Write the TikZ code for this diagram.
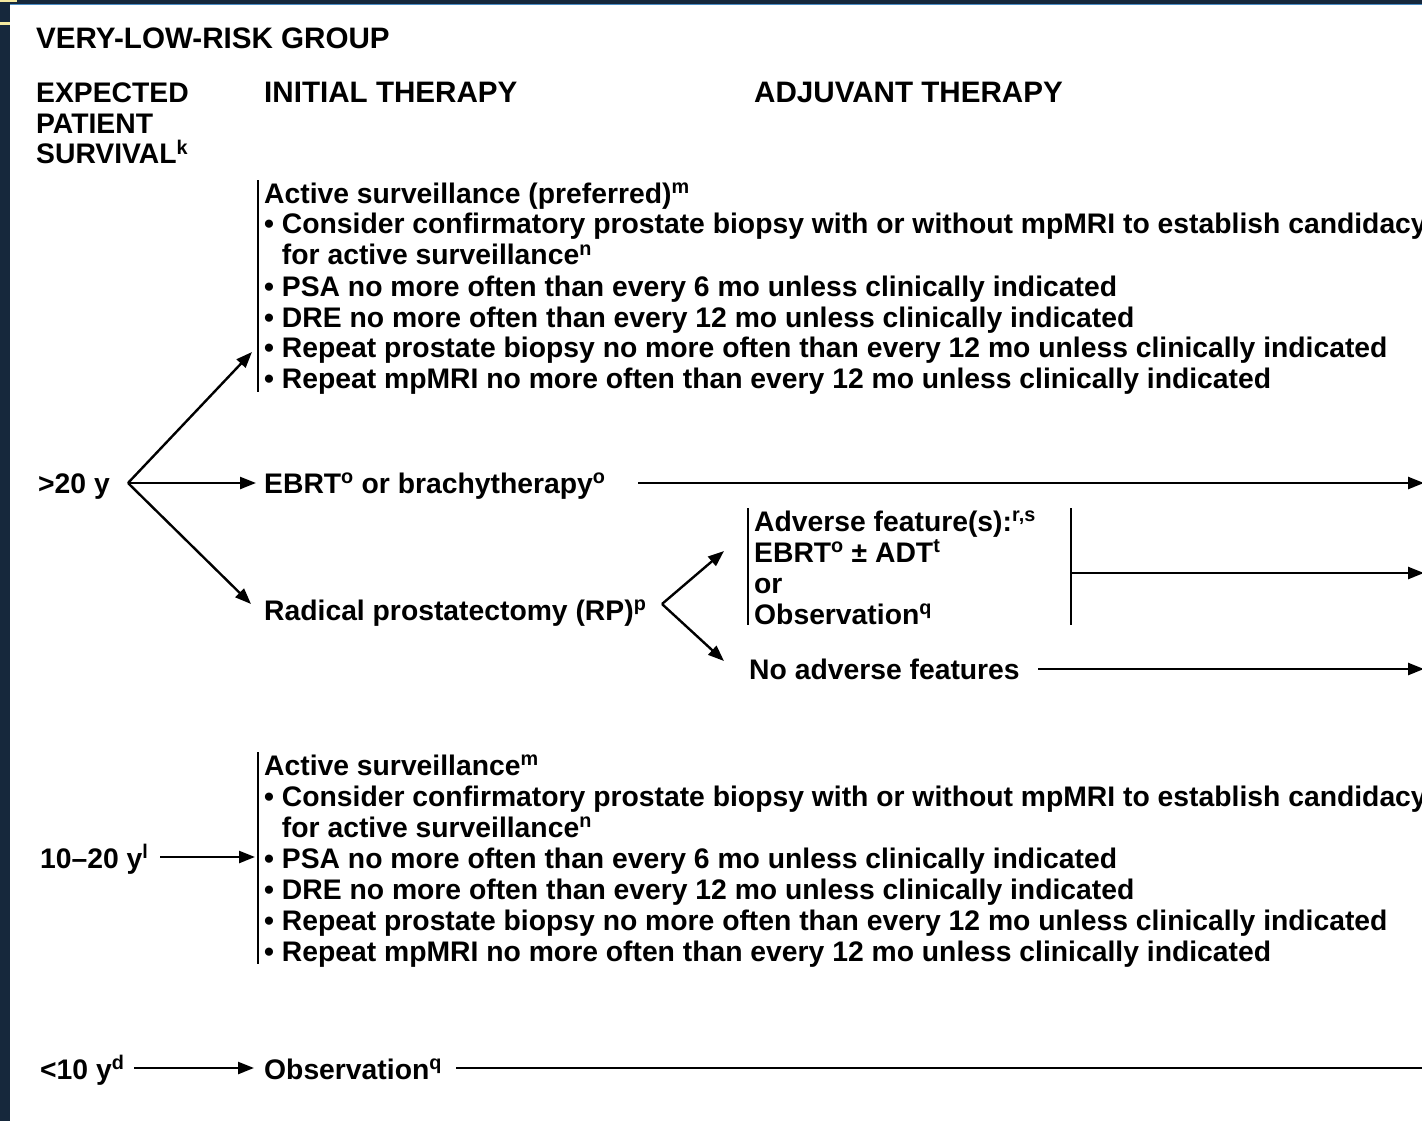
\documentclass[tikz,border=0pt]{standalone}
\usepackage{fontspec}
\setmainfont{Liberation Sans}
\usetikzlibrary{arrows.meta}
\definecolor{navy}{HTML}{16283C}
\definecolor{edgeblue}{HTML}{4A8CC4}
\definecolor{cornyellow}{HTML}{F4E9A0}
\begin{document}
\begin{tikzpicture}[x=1pt,y=-1pt,
  every node/.style={font=\fontsize{28.3}{31}\selectfont\bfseries, inner sep=0pt},
  txt/.style={anchor=base west},
  head/.style={anchor=base west, font=\fontsize{29.6}{30.5}\selectfont\bfseries},
  conn/.style={line width=2.4pt, -{Triangle[length=16pt,width=12pt]}},
  plainline/.style={line width=2.4pt},
  bar/.style={line width=2.4pt}]
\useasboundingbox (0,0) rectangle (1422,1121);
\clip (0,0) rectangle (1422,1121);
% slide background
\fill[navy] (0,0) rectangle (1422,1121);
\fill[white] (10,5) rectangle (1422,1121);
\draw[edgeblue, line width=1.5pt] (10,4.5) -- (1422,4.5);
\draw[cornyellow, line width=2pt] (0,1) -- (17,1);
\draw[cornyellow, line width=3pt] (0,23.5) -- (10,23.5);

% headers
\node[head] (title) at (36,49) {VERY-LOW-RISK GROUP};
\node[txt, font=\fontsize{28.3}{30.5}\selectfont\bfseries] (survhead) at (36,103) {\parbox[t]{300pt}{EXPECTED\\PATIENT\\SURVIVAL\textsuperscript{k}}};
\node[head] (inithead) at (264,103) {INITIAL THERAPY};
\node[head] (adjhead) at (754,103) {ADJUVANT THERAPY};

% >20 y branch
\node[txt] (gt20) at (38,493) {>20 y};
\coordinate (v1) at (128,483);
\node[txt] (as1) at (264,203) {\parbox[t]{1300pt}{Active surveillance (preferred)\textsuperscript{m}\\
• Consider confirmatory prostate biopsy with or without mpMRI to establish candidacy\\
\phantom{•}\ for active surveillance\textsuperscript{n}\\
• PSA no more often than every 6 mo unless clinically indicated\\
• DRE no more often than every 12 mo unless clinically indicated\\
• Repeat prostate biopsy no more often than every 12 mo unless clinically indicated\\
• Repeat mpMRI no more often than every 12 mo unless clinically indicated}};
\draw[bar] ([xshift=-6pt,yshift=2pt]as1.north west) -- ([xshift=-6pt,yshift=3pt]as1.south west);
\coordinate (as1in) at (252,352);

\node[txt] (ebrt) at (264,493) {EBRT\textsuperscript{o} or brachytherapy\textsuperscript{o}};
\coordinate (ebrtin) at (256,483);
\coordinate (ebrtout) at (638,483);
\coordinate (edge1) at (1424,483);

\node[txt] (rp) at (264,620) {Radical prostatectomy (RP)\textsuperscript{p}};
\coordinate (rpin) at (251,604);

\draw[conn] (v1) -- (as1in);
\draw[conn] (v1) -- (ebrtin);
\draw[conn] (v1) -- (rpin);
\draw[conn] (ebrtout) -- (edge1);

% after RP
\coordinate (v2) at (662,604);
\node[txt] (adv) at (754,531) {\parbox[t]{400pt}{Adverse feature(s):\textsuperscript{r,s}\\EBRT\textsuperscript{o} ± ADT\textsuperscript{t}\\or\\Observation\textsuperscript{q}}};
\draw[bar] (748,508) -- (748,625);
\coordinate (advin) at (724,551);
\coordinate (rbtop) at (1071,508);
\coordinate (rbbot) at (1071,625);
\coordinate (rbmid) at (1071,573);
\coordinate (edge2) at (1424,573);
\draw[bar] (rbtop) -- (rbbot);
\draw[conn] (rbmid) -- (edge2);

\node[txt] (noadv) at (749,679) {No adverse features};
\coordinate (noadvin) at (724,661);
\coordinate (noadvout) at (1038,669);
\coordinate (edge3) at (1424,669);
\draw[conn] (v2) -- (advin);
\draw[conn] (v2) -- (noadvin);
\draw[conn] (noadvout) -- (edge3);

% 10-20 y branch
\node[txt] (y1020) at (40,868) {10–20 y\textsuperscript{l}};
\node[txt] (as2) at (264,775) {\parbox[t]{1300pt}{Active surveillance\textsuperscript{m}\\
• Consider confirmatory prostate biopsy with or without mpMRI to establish candidacy\\
\phantom{•}\ for active surveillance\textsuperscript{n}\\
• PSA no more often than every 6 mo unless clinically indicated\\
• DRE no more often than every 12 mo unless clinically indicated\\
• Repeat prostate biopsy no more often than every 12 mo unless clinically indicated\\
• Repeat mpMRI no more often than every 12 mo unless clinically indicated}};
\draw[bar] ([xshift=-6pt,yshift=2pt]as2.north west) -- ([xshift=-6pt,yshift=3pt]as2.south west);
\coordinate (y1020out) at (160,857);
\coordinate (as2in) at (255,857);
\draw[conn] (y1020out) -- (as2in);

% <10 y branch
\node[txt] (lt10) at (40,1079) {<10 y\textsuperscript{d}};
\node[txt] (obs) at (264,1079) {Observation\textsuperscript{q}};
\coordinate (lt10out) at (134,1068);
\coordinate (obsin) at (254,1068);
\coordinate (obsout) at (456,1068);
\coordinate (edge4) at (1423,1068);
\draw[conn] (lt10out) -- (obsin);
\draw[plainline] (obsout) -- (edge4);
\end{tikzpicture}
\end{document}
